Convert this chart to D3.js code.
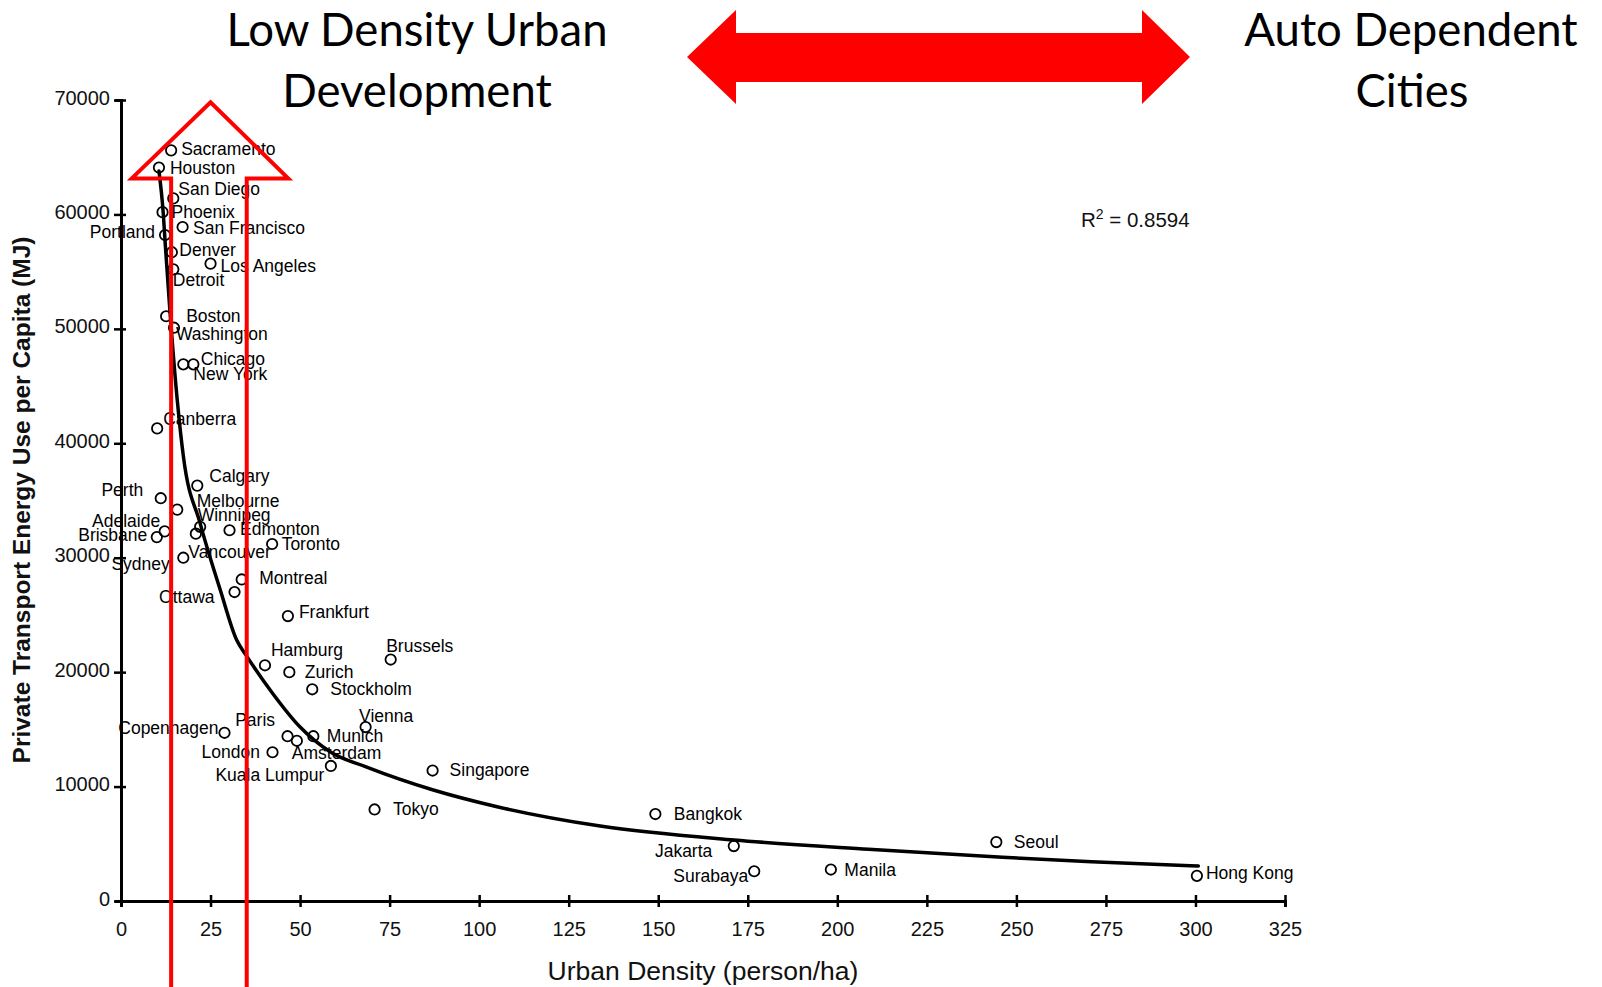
<!DOCTYPE html>
<html>
<head>
<meta charset="utf-8">
<script src="https://cdn.jsdelivr.net/npm/d3@7"></script>
<style>
  html, body { margin: 0; padding: 0; background: #fff; }
  svg { display: block; }
</style>
</head>
<body>
<svg id="chart" width="1602" height="987"></svg>
<script>
// city points
const cities = ["Sacramento","Houston","San Diego","Phoenix","Portland","San Francisco","Denver","Los Angeles","Detroit",
  "Boston","Washington","Chicago","New York","Canberra","Calgary","Perth","Melbourne","Winnipeg","Adelaide","Edmonton",
  "Brisbane","Toronto","Vancouver","Sydney","Montreal","Ottawa","Frankfurt","Hamburg","Brussels","Zurich","Stockholm",
  "Vienna","Paris","Copenhagen","Munich","London","Amsterdam","Kuala Lumpur","Singapore","Tokyo","Bangkok","Jakarta",
  "Surabaya","Manila","Seoul","Hong Kong"];
const density = [14.0,10.6,14.6,11.6,12.3,17.2,14.2,25.0,14.6,
  12.6,14.8,17.4,20.2,10.1,21.3,11.1,15.7,22.1,12.2,30.3,
  10.0,42.2,20.9,17.4,33.7,31.7,46.6,40.2,75.3,47.0,53.4,
  68.3,46.5,28.9,53.7,42.3,49.1,58.6,87.0,70.8,149.2,171.1,
  176.8,198.2,244.4,300.4];
const energy = [65600,64100,61400,60200,58200,58900,56700,55700,55200,
  51100,50100,46900,46900,41300,36300,35200,34200,32700,32300,32400,
  31800,31200,32100,30000,28100,27000,24900,20600,21100,20000,18500,
  15200,14400,14700,14400,13000,14000,11800,11400,8000,7600,4800,
  2600,2750,5150,2200];

// fitted trend line as traced on the picture
const trendDensity = [10.6,11.8,12.4,13.7,15.7,17.4,22.1,27.7,32.3,35.1,42.2,50,58.6,68.6,87.2,105,133.8,171.2,208.7,246.1,271,300.8];
const trendEnergy = [63800,60100,57200,51400,43800,38900,33000,27200,22800,21400,18200,15200,13000,11700,9700,8240,6550,5330,4520,3820,3430,3060];

const xTicks = [0,25,50,75,100,125,150,175,200,225,250,275,300,325];
const yTicks = [0,10000,20000,30000,40000,50000,60000,70000];

// label placement next to each circle: dx, dy, anchor
const labelLayout = {
  "Sacramento": [10, 5, "start"], "Houston": [11, 6, "start"], "San Diego": [5, -3, "start"],
  "Phoenix": [9, 6, "start"], "Portland": [-10, 3, "end"], "San Francisco": [10.5, 6.5, "start"],
  "Denver": [7.5, 4, "start"], "Los Angeles": [10, 8.5, "start"], "Detroit": [-0.5, 16.5, "start"],
  "Boston": [20, 6, "start"], "Washington": [2, 12, "start"], "Chicago": [17.5, 0.5, "start"],
  "New York": [0, 16, "start"], "Canberra": [6, -3.5, "start"], "Calgary": [12, -4, "start"],
  "Perth": [-17.5, -2.5, "end"], "Melbourne": [19.5, -2.5, "start"], "Winnipeg": [-2.5, -6, "start"],
  "Adelaide": [-4.5, -4.5, "end"], "Edmonton": [10.5, 4.5, "start"], "Brisbane": [-9.5, 3.5, "end"],
  "Toronto": [9.5, 6.5, "start"], "Vancouver": [-7.5, 24.5, "start"], "Sydney": [-13.5, 12.5, "end"],
  "Montreal": [17.5, 5, "start"], "Ottawa": [-20, 10.5, "end"], "Frankfurt": [11, 1.5, "start"],
  "Hamburg": [6, -9.5, "start"], "Brussels": [-4.5, -7.5, "start"], "Zurich": [15.5, 6, "start"],
  "Stockholm": [18, 5.5, "start"], "Vienna": [-6.5, -5.5, "start"], "Paris": [-12.5, -10.5, "end"],
  "Copenhagen": [-6, 1.5, "end"], "Munich": [13.5, 6, "start"], "London": [-12.5, 5.5, "end"],
  "Amsterdam": [-5, 18.5, "start"], "Kuala Lumpur": [-6.5, 15, "end"], "Singapore": [17, 5.5, "start"],
  "Tokyo": [18.5, 5.5, "start"], "Bangkok": [18.5, 6, "start"], "Jakarta": [-21.5, 10.5, "end"],
  "Surabaya": [-6, 10.5, "end"], "Manila": [13.5, 6.5, "start"], "Seoul": [17.5, 6, "start"],
  "Hong Kong": [9, 3.5, "start"]
};

const svg = d3.select("#chart");
const W = 1602, H = 987;
svg.append("rect").attr("width", W).attr("height", H).attr("fill", "#fff");

const x = d3.scaleLinear().domain([0, 325]).range([121, 1285]);
const y = d3.scaleLinear().domain([0, 70000]).range([901, 100]);

const tickFont = "'Liberation Sans', Arial, sans-serif";

// x axis
const gx = svg.append("g")
  .attr("transform", `translate(0,${y(0)})`)
  .call(d3.axisBottom(x).tickValues(xTicks).tickSizeOuter(0).tickSize(6).tickPadding(15).tickFormat(d3.format("d")));
gx.select(".domain").attr("stroke", "#000").attr("stroke-width", 3);
gx.selectAll(".tick line").attr("y1", -6).attr("y2", 6).attr("stroke", "#000").attr("stroke-width", 2.5);
gx.selectAll(".tick text").attr("font-family", tickFont).attr("font-size", 20).attr("fill", "#111");

// y axis
const gy = svg.append("g")
  .attr("transform", `translate(${x(0)},0)`)
  .call(d3.axisLeft(y).tickValues(yTicks).tickSizeOuter(0).tickSize(6).tickPadding(5).tickFormat(d3.format("d")));
gy.select(".domain").attr("stroke", "#000").attr("stroke-width", 3);
gy.selectAll(".tick line").attr("x1", -7).attr("x2", 5).attr("stroke", "#000").attr("stroke-width", 2.5);
gy.selectAll(".tick text").attr("font-family", tickFont).attr("font-size", 20).attr("fill", "#111").attr("dy", "0.2em");

// axis titles
svg.append("text")
  .attr("x", 703).attr("y", 980)
  .attr("text-anchor", "middle")
  .attr("font-family", tickFont).attr("font-size", 26.5)
  .attr("fill", "#111")
  .text("Urban Density (person/ha)");

svg.append("text")
  .attr("transform", "translate(21,500) rotate(-90)")
  .attr("text-anchor", "middle").attr("dy", "0.35em")
  .attr("font-family", tickFont).attr("font-size", 24.5).attr("font-weight", "bold")
  .attr("fill", "#111")
  .text("Private Transport Energy Use per Capita (MJ)");

// trend line
const trend = trendDensity.map((d, i) => [d, trendEnergy[i]]);
svg.append("path")
  .datum(trend)
  .attr("fill", "none").attr("stroke", "#000").attr("stroke-width", 3.5)
  .attr("stroke-linejoin", "round").attr("stroke-linecap", "round")
  .attr("d", d3.line().x(d => x(d[0])).y(d => y(d[1])).curve(d3.curveMonotoneX));

// points and labels
const pts = cities.map((c, i) => ({ name: c, d: density[i], e: energy[i] }));
svg.append("g").selectAll("circle")
  .data(pts).join("circle")
  .attr("cx", d => x(d.d)).attr("cy", d => y(d.e)).attr("r", 5.2)
  .attr("fill", "none").attr("stroke", "#000").attr("stroke-width", 1.8);

svg.append("g").selectAll("text")
  .data(pts).join("text")
  .attr("x", d => x(d.d) + labelLayout[d.name][0])
  .attr("y", d => y(d.e) + labelLayout[d.name][1])
  .attr("text-anchor", d => labelLayout[d.name][2])
  .attr("font-family", tickFont).attr("font-size", 17.5).attr("fill", "#000")
  .text(d => d.name);

// R squared
const r2 = svg.append("text")
  .attr("x", 1081).attr("y", 227)
  .attr("font-family", tickFont).attr("font-size", 20.5).attr("fill", "#111");
r2.append("tspan").text("R");
r2.append("tspan").attr("dy", -8).attr("font-size", 14).text("2");
r2.append("tspan").attr("dy", 8).text(" = 0.8594");

// red up arrow outline (in data space)
const upArrow = [
  [14.0, null], [14.0, 63150], [3.0, 63150], [25.0, 69800], [46.7, 63150], [35.1, 63150], [35.1, null]
];
svg.append("path")
  .attr("fill", "none").attr("stroke", "#ff0000").attr("stroke-width", 4)
  .attr("stroke-linejoin", "miter")
  .attr("d", d3.line().x(d => x(d[0])).y(d => d[1] === null ? H + 5 : y(d[1]))(upArrow));

// red double arrow at top
const dbl = [[687, 57], [736, 10], [736, 33], [1142, 33], [1142, 10], [1190, 57], [1142, 104], [1142, 82], [736, 82], [736, 104]];
svg.append("path")
  .attr("fill", "#ff0000")
  .attr("d", d3.line()(dbl) + "Z");

// titles
const titleFont = "Lato, 'Open Sans', sans-serif";
function title(txt, cx, by) {
  svg.append("text").attr("x", cx).attr("y", by)
    .attr("text-anchor", "middle")
    .attr("font-family", titleFont).attr("font-size", 45.5).attr("fill", "#000")
    .text(txt);
}
title("Low Density Urban", 417, 46);
title("Development", 417, 107);
title("Auto Dependent", 1411, 46);
title("Cities", 1412, 107);
</script>
</body>
</html>
